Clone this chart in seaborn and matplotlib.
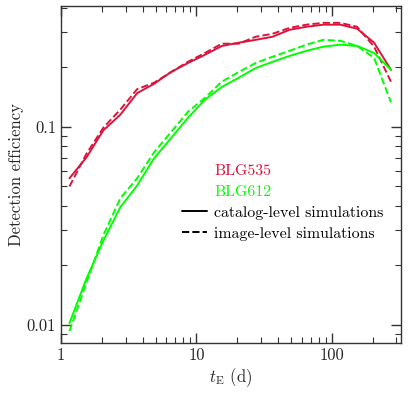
import numpy as np
import pandas as pd
import matplotlib
matplotlib.use("Agg")
import matplotlib.pyplot as plt
from matplotlib.lines import Line2D
from matplotlib.ticker import FixedLocator, FixedFormatter, LogLocator, NullFormatter
import seaborn as sns

# Einstein timescale bins (days)
t_E = [1.155, 1.540, 2.054, 2.738, 3.652, 4.870, 6.494, 8.660, 11.55, 15.40,
       20.54, 27.38, 36.52, 48.70, 64.94, 86.60, 115.5, 154.0, 205.4, 273.8]

# detection efficiencies
blg535_catalog = [0.055, 0.070, 0.096, 0.115, 0.148, 0.165, 0.189, 0.210, 0.231, 0.256,
                  0.266, 0.275, 0.285, 0.309, 0.320, 0.328, 0.328, 0.313, 0.266, 0.194]
blg535_image = [0.050, 0.073, 0.099, 0.122, 0.155, 0.167, 0.189, 0.213, 0.236, 0.263,
                0.263, 0.285, 0.295, 0.316, 0.328, 0.335, 0.335, 0.320, 0.254, 0.169]
blg612_catalog = [0.0102, 0.0171, 0.0266, 0.0392, 0.0506, 0.0694, 0.0877, 0.111, 0.137, 0.159,
                  0.177, 0.198, 0.213, 0.228, 0.242, 0.254, 0.260, 0.256, 0.236, 0.194]
blg612_image = [0.0093, 0.0163, 0.0283, 0.0435, 0.0550, 0.0744, 0.0940, 0.119, 0.140, 0.169,
                0.189, 0.210, 0.226, 0.242, 0.260, 0.275, 0.272, 0.256, 0.223, 0.133]

fields = ["BLG535", "BLG612"]
colors = {"BLG535": "crimson", "BLG612": "lime"}

rows = []
for field, sim, vals in [("BLG535", "catalog", blg535_catalog),
                         ("BLG535", "image", blg535_image),
                         ("BLG612", "catalog", blg612_catalog),
                         ("BLG612", "image", blg612_image)]:
    for t, v in zip(t_E, vals):
        rows.append({"t_E": t, "eff": v, "field": field, "sim": sim})
df = pd.DataFrame(rows)

sns.set_style("ticks")
plt.rcParams["font.family"] = ["cmr10", "DejaVu Serif"]
plt.rcParams["mathtext.fontset"] = "cm"
plt.rcParams["axes.unicode_minus"] = False

fig = plt.figure(figsize=(4.08, 3.94), dpi=100)
ax = fig.add_axes([0.1495, 0.1294, 0.8335, 0.8556])

sns.lineplot(data=df, x="t_E", y="eff", hue="field", style="sim",
             palette=colors, dashes={"catalog": "", "image": (3.7, 1.6)},
             linewidth=1.4, legend=False, ax=ax)

ax.set_xscale("log")
ax.set_yscale("log")
ax.set_xlim(1, 325)
ax.set_ylim(0.0081, 0.408)

ax.xaxis.set_major_locator(FixedLocator([1, 10, 100]))
ax.xaxis.set_major_formatter(FixedFormatter(["1", "10", "100"]))
ax.yaxis.set_major_locator(FixedLocator([0.01, 0.1]))
ax.yaxis.set_major_formatter(FixedFormatter(["0.01", "0.1"]))
ax.xaxis.set_minor_locator(LogLocator(base=10, subs=np.arange(2, 10)))
ax.yaxis.set_minor_locator(LogLocator(base=10, subs=np.arange(2, 10)))
ax.xaxis.set_minor_formatter(NullFormatter())
ax.yaxis.set_minor_formatter(NullFormatter())

ax.tick_params(which="both", direction="in", top=True, right=True, labelsize=12, color="#333333")
ax.tick_params(which="major", length=7, width=1)
ax.tick_params(which="minor", length=4, width=0.8)
for s in ax.spines.values():
    s.set_linewidth(1.0)
    s.set_color("#333333")

ax.set_xlabel(r"$t_{\rm E}$ (d)", fontsize=12, labelpad=2)
ax.set_ylabel("Detection efficiency", fontsize=12, labelpad=2)

handles = [Line2D([], [], color="none"), Line2D([], [], color="none"),
           Line2D([], [], color="black", lw=1.4),
           Line2D([], [], color="black", lw=1.4, ls=(0, (3.7, 1.6)))]
labels = ["BLG535", "BLG612", "catalog-level simulations", "image-level simulations"]
leg = ax.legend(handles, labels, loc="lower left", bbox_to_anchor=(0.337, 0.285),
                frameon=False, fontsize=11.4, handlelength=1.6, handletextpad=0.45,
                labelspacing=0.42, borderaxespad=0)
for txt, c in zip(leg.get_texts(), ["crimson", "lime", "black", "black"]):
    txt.set_color(c)

fig.savefig("out.png", dpi=100)
